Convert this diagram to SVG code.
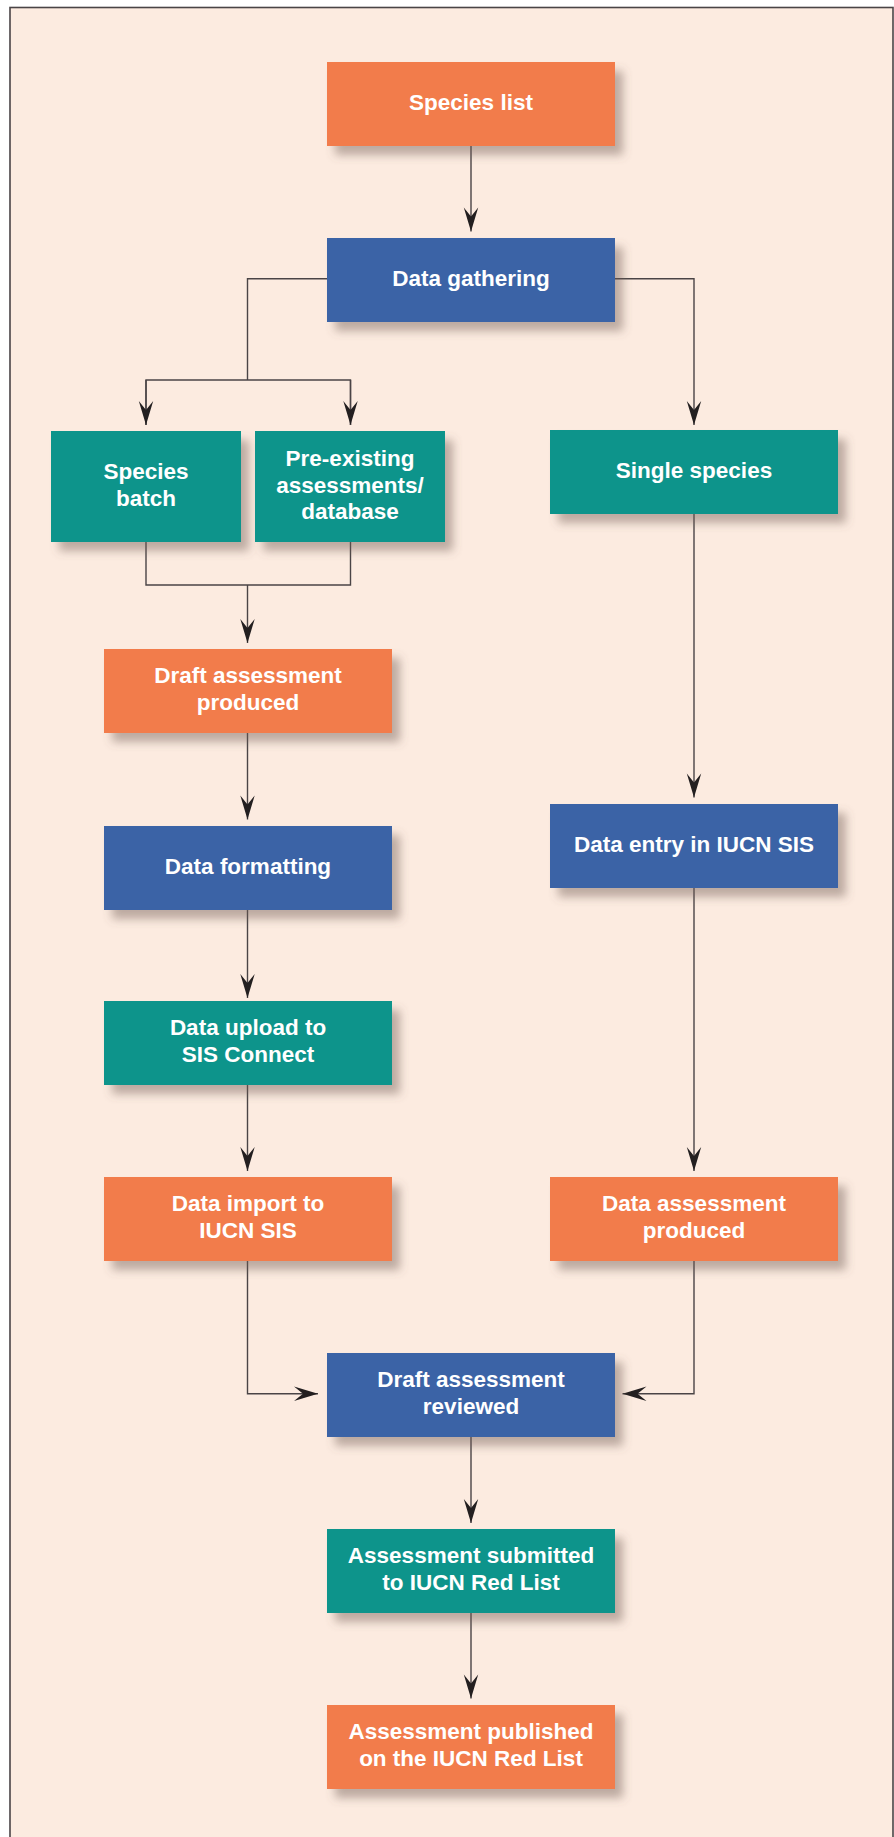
<svg xmlns="http://www.w3.org/2000/svg" width="894" height="1837" viewBox="0 0 894 1837">
<defs>
<style>
.orange{fill:#F27B4C}
.blue{fill:#3B63A6}
.teal{fill:#0E948B}
.box{filter:url(#sh)}
.lbl{font-family:"Liberation Sans",Arial,Helvetica,sans-serif;font-weight:bold;font-size:22.5px;fill:#FFFFFF;text-anchor:middle}
.ln{fill:none;stroke:#4A4446;stroke-width:1.4}
.arr{marker-end:url(#ah)}
</style>
<filter id="sh" x="-10%" y="-20%" width="130%" height="150%">
<feDropShadow dx="8" dy="9" stdDeviation="5" flood-color="#6E5C52" flood-opacity="0.45"/>
</filter>
<marker id="ah" markerUnits="userSpaceOnUse" viewBox="-25 -9 26 18" markerWidth="26" markerHeight="18" refX="0" refY="0" orient="auto">
<path d="M0,0 L-24,-7.2 L-15,0 L-24,7.2 Z" fill="#231F20"/>
</marker>
</defs>
<rect x="0" y="0" width="894" height="1837" fill="#FFFFFF"/>
<rect x="10" y="7.5" width="883" height="1850" fill="#FCEBE0" stroke="#4A4446" stroke-width="1.6"/>

<g id="connectors">
<path class="ln arr" d="M471,146 V231.5"/>
<path class="ln" d="M327,278.7 H247.5 V380 M146,425 V380 H350.5 V425"/>
<path class="ln arr" d="M146,380 V425"/>
<path class="ln arr" d="M350.5,380 V425"/>
<path class="ln arr" d="M615,278.7 H694 V425"/>
<path class="ln" d="M146,542 V585 H350.5 V542"/>
<path class="ln arr" d="M247.5,585 V643"/>
<path class="ln arr" d="M247.5,733 V819.5"/>
<path class="ln arr" d="M247.5,910 V998"/>
<path class="ln arr" d="M247.5,1085 V1171"/>
<path class="ln arr" d="M694,514 V797.5"/>
<path class="ln arr" d="M694,888 V1171"/>
<path class="ln arr" d="M247.5,1261 V1393.8 H318"/>
<path class="ln arr" d="M694,1261 V1393.8 H622.5"/>
<path class="ln arr" d="M471,1437 V1523"/>
<path class="ln arr" d="M471,1613 V1698.5"/>
</g>

<g id="species-list"><rect class="box orange" x="327" y="62" width="288" height="84"/><text class="lbl" x="471" y="110">Species list</text></g>
<g id="data-gathering"><rect class="box blue" x="327" y="238" width="288" height="84"/><text class="lbl" x="471" y="286">Data gathering</text></g>
<g id="species-batch"><rect class="box teal" x="51" y="431" width="190" height="111"/><text class="lbl" x="146" y="479">Species</text><text class="lbl" x="146" y="506">batch</text></g>
<g id="pre-existing"><rect class="box teal" x="255" y="431" width="190" height="111"/><text class="lbl" x="350" y="466">Pre-existing</text><text class="lbl" x="350" y="492.5">assessments/</text><text class="lbl" x="350" y="519">database</text></g>
<g id="single-species"><rect class="box teal" x="550" y="430" width="288" height="84"/><text class="lbl" x="694" y="478">Single species</text></g>
<g id="draft-produced"><rect class="box orange" x="104" y="649" width="288" height="84"/><text class="lbl" x="248" y="683">Draft assessment</text><text class="lbl" x="248" y="710">produced</text></g>
<g id="data-formatting"><rect class="box blue" x="104" y="826" width="288" height="84"/><text class="lbl" x="248" y="873.5">Data formatting</text></g>
<g id="data-upload"><rect class="box teal" x="104" y="1001" width="288" height="84"/><text class="lbl" x="248" y="1035">Data upload to</text><text class="lbl" x="248" y="1062">SIS Connect</text></g>
<g id="data-import"><rect class="box orange" x="104" y="1177" width="288" height="84"/><text class="lbl" x="248" y="1211">Data import to</text><text class="lbl" x="248" y="1238">IUCN SIS</text></g>
<g id="data-entry"><rect class="box blue" x="550" y="804" width="288" height="84"/><text class="lbl" x="694" y="852">Data entry in IUCN SIS</text></g>
<g id="data-assessment-produced"><rect class="box orange" x="550" y="1177" width="288" height="84"/><text class="lbl" x="694" y="1211">Data assessment</text><text class="lbl" x="694" y="1238">produced</text></g>
<g id="draft-reviewed"><rect class="box blue" x="327" y="1353" width="288" height="84"/><text class="lbl" x="471" y="1387">Draft assessment</text><text class="lbl" x="471" y="1414">reviewed</text></g>
<g id="assessment-submitted"><rect class="box teal" x="327" y="1529" width="288" height="84"/><text class="lbl" x="471" y="1563">Assessment submitted</text><text class="lbl" x="471" y="1590">to IUCN Red List</text></g>
<g id="assessment-published"><rect class="box orange" x="327" y="1705" width="288" height="84"/><text class="lbl" x="471" y="1739">Assessment published</text><text class="lbl" x="471" y="1766">on the IUCN Red List</text></g>
</svg>
